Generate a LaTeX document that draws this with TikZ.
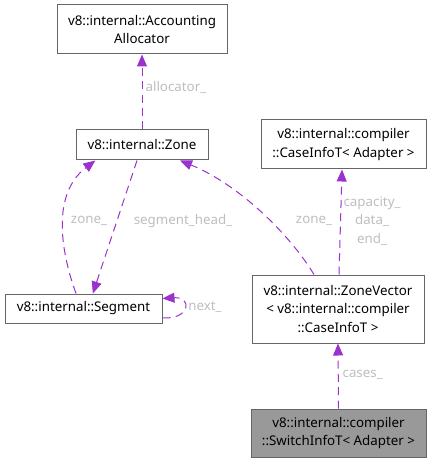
\documentclass[tikz,border=0pt]{standalone}
\usepackage{fontspec}
\setmainfont{Noto Sans}
\usepackage{xcolor}
\usepackage{tikz}
\usetikzlibrary{arrows.meta,positioning}
\definecolor{boxgray}{HTML}{666666}
\definecolor{mainfill}{HTML}{999999}
\definecolor{depviolet}{HTML}{9A32CD}
\definecolor{lblgray}{HTML}{BEBEBE}

\begin{document}
\begin{tikzpicture}[
  x=0.75pt, y=-0.75pt,
  font=\fontsize{10}{14}\selectfont,
  cls/.style={draw=boxgray, fill=white, line width=0.75pt, align=center, inner sep=0pt},
  boxsize/.style 2 args={minimum width=#1*0.75pt, minimum height=#2*0.75pt},
  dep/.style={draw=depviolet, line width=0.75pt, dash pattern=on 6pt off 4pt,
    -{Triangle[length=9pt,width=7.5pt,fill=depviolet]}},
  lbl/.style={text=lblgray, inner sep=1pt, align=center},
]
\useasboundingbox (0,0) rectangle (431,463);
% classes
\node[cls, boxsize={170}{49}] (alloc) at (142,29.5) {v8::internal::Accounting\\Allocator};
\node[cls, boxsize={132}{30}] (zone) at (142,145) {v8::internal::Zone};
\node[cls, boxsize={165}{49}] (caseinfo) at (343.5,144.5) {v8::internal::compiler\\::CaseInfoT< Adapter >};
\node[cls, boxsize={157}{29}] (segment) at (83.5,308.5) {v8::internal::Segment};
\node[cls, boxsize={172}{68}] (zonevec) at (338,309) {v8::internal::ZoneVector\\< v8::internal::compiler\\::CaseInfoT >};
\node[cls, fill=mainfill, boxsize={175}{48}] (switchinfo) at (338.5,433) {v8::internal::compiler\\::SwitchInfoT< Adapter >};
% members
\draw[dep] (zone.north) -- (alloc.south);
\node[lbl, anchor=west] (l-alloc) at (144,87) {allocator\_};
\draw[dep] ([xshift=-5.6pt]segment.north) .. controls (62,255) and (50,195) .. ([xshift=-35pt]zone.south);
\node[lbl] (l-zone1) at (89,221) {zone\_};
\draw[dep] ([xshift=-3.75pt]zone.south) -- ([xshift=7pt]segment.north);
\node[lbl] (l-head) at (183,221) {segment\_head\_};
\draw[dep] ([xshift=-18pt]zonevec.north) .. controls (290,235) and (240,185) .. ([xshift=28.5pt]zone.south);
\node[lbl] (l-zone2) at (314,221) {zone\_};
\draw[dep] ([xshift=0.75pt]zonevec.north) -- ([xshift=-1.1pt]caseinfo.south);
\node[lbl] (l-cap) at (372,221) {capacity\_\\data\_\\end\_};
\draw[dep] ([yshift=-7pt]segment.east) .. controls +(28,2) and +(30,-2) .. ([yshift=7.5pt]segment.east);
\node[lbl] (l-next) at (205,307) {next\_};
\draw[dep] (switchinfo.north) -- (zonevec.south);
\node[lbl, anchor=west] (l-cases) at (341,375) {cases\_};
\end{tikzpicture}
\end{document}
